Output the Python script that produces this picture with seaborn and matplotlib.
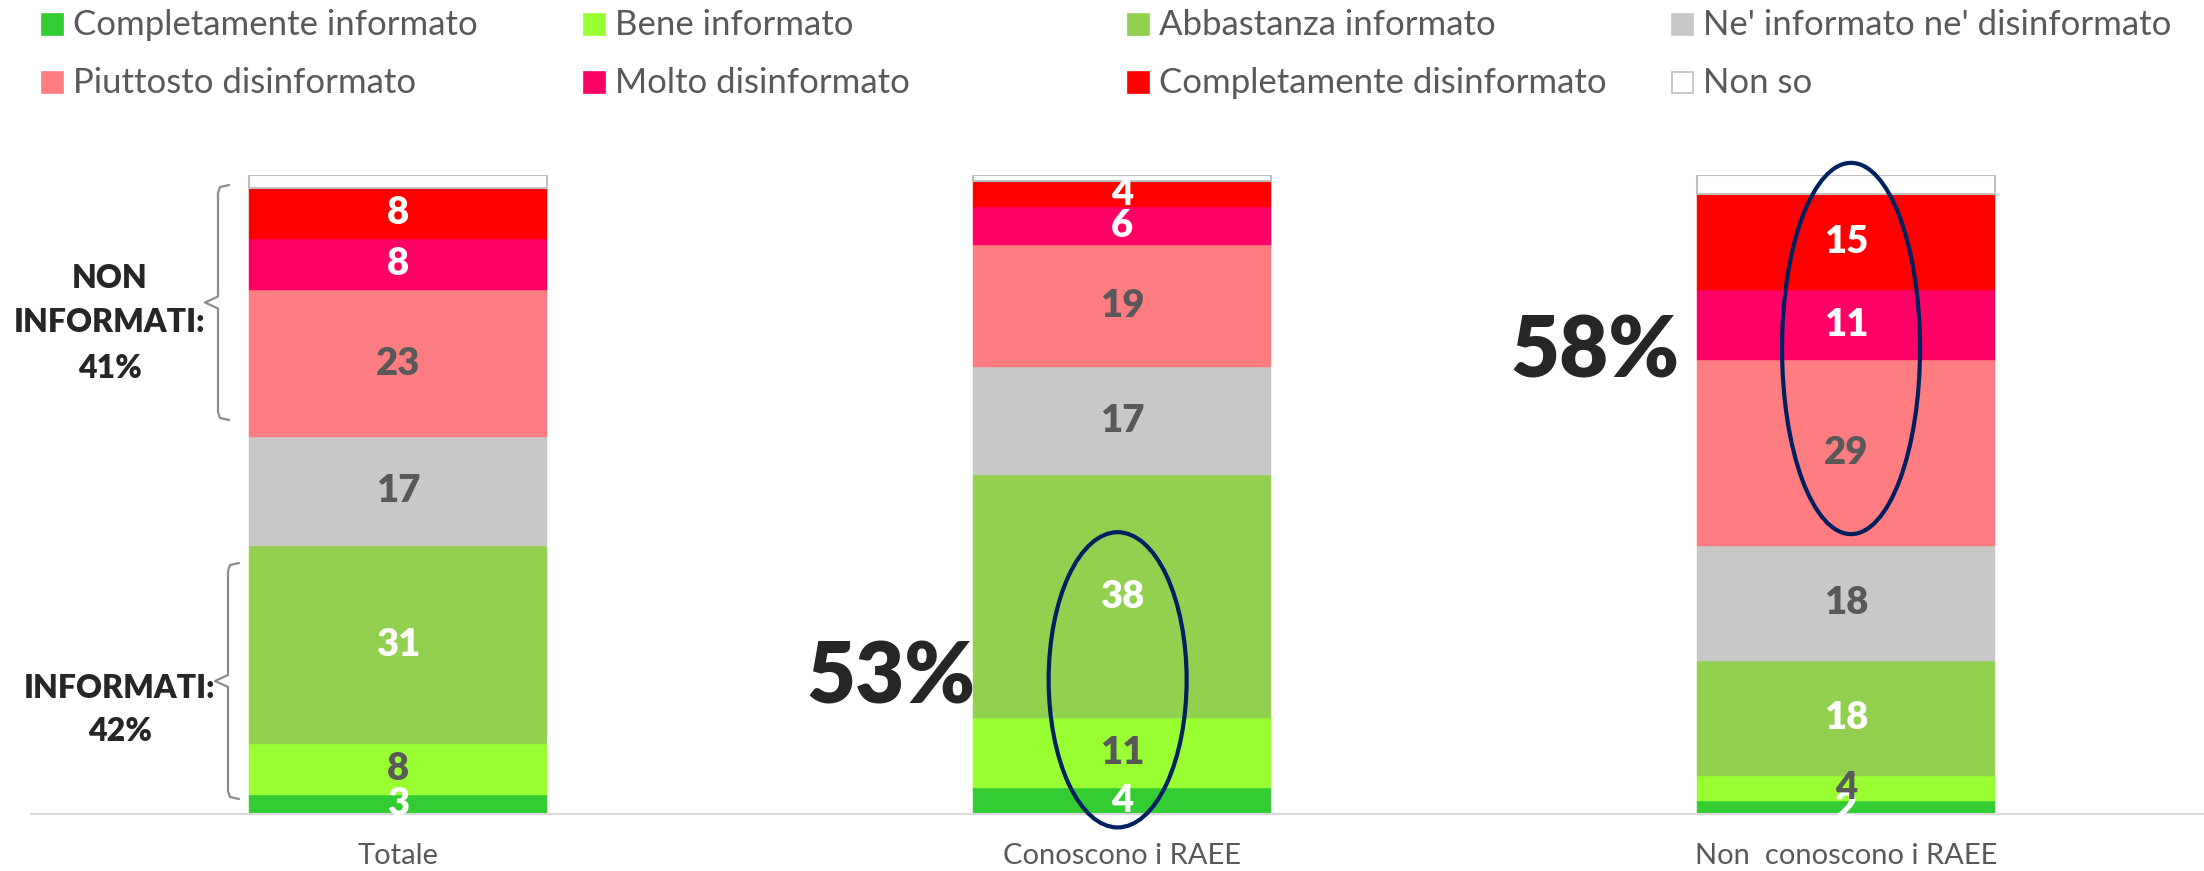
import numpy as np
import pandas as pd
import matplotlib
matplotlib.use("Agg")
import matplotlib.pyplot as plt
from matplotlib.patches import Rectangle, Ellipse
from matplotlib.lines import Line2D
import seaborn as sns

# ---------------- data ----------------
groups = ["Totale", "Conoscono i RAEE", "Non  conoscono i RAEE"]
levels = ["Completamente informato", "Bene informato", "Abbastanza informato",
          "Ne' informato ne' disinformato", "Piuttosto disinformato",
          "Molto disinformato", "Completamente disinformato", "Non so"]
completamente_informato = [3, 4, 2]
bene_informato = [8, 11, 4]
abbastanza_informato = [31, 38, 18]
ne_informato_ne_disinformato = [17, 17, 18]
piuttosto_disinformato = [23, 19, 29]
molto_disinformato = [8, 6, 11]
completamente_disinformato = [8, 4, 15]
non_so = [2, 1, 3]
series = [completamente_informato, bene_informato, abbastanza_informato,
          ne_informato_ne_disinformato, piuttosto_disinformato,
          molto_disinformato, completamente_disinformato, non_so]

colors = ["#33CC33", "#99FF33", "#92D050", "#C8C8C6", "#FF7C80",
          "#FF0066", "#FF0000", "#FFFFFF"]
label_colors = ["white", "#595959", "white", "#595959", "#595959",
                "white", "white", None]

# ---------------- figure ----------------
sns.set_theme(style="white")
plt.rcParams["font.family"] = ["Lato", "DejaVu Sans"]

W, H = 2204, 871
fig = plt.figure(figsize=(W / 100, H / 100), dpi=100)

def fx(px):
    return px / W

def fy(py):
    return 1 - py / H

ax = fig.add_axes([fx(31), fy(814), fx(W) - fx(31), fy(175) - fy(814)])

bottom = np.zeros(len(groups))
for lvl, vals, col, lcol in zip(levels, series, colors, label_colors):
    df = pd.DataFrame({"group": groups, "value": vals})
    is_nonso = lvl == "Non so"
    sns.barplot(data=df, x="group", y="value", order=groups, color=col,
                saturation=1, width=0.4116, errorbar=None, ax=ax,
                bottom=bottom.copy(),
                edgecolor="#BFBFBF" if is_nonso else col,
                linewidth=1.5 if is_nonso else 0.3)
    cont = ax.containers[-1]
    if lcol is not None:
        ax.bar_label(cont, labels=[str(v) for v in vals], label_type="center",
                     color=lcol, fontsize=27.5, fontweight=800)
    bottom += np.array(vals, dtype=float)

ax.set_xlim(-0.5069, 2.4945)
ax.set_ylim(0, 100)
ax.set_xlabel("")
ax.set_ylabel("")
ax.set_yticks([])
for s in ["top", "right", "left"]:
    ax.spines[s].set_visible(False)
ax.spines["bottom"].set_color("#D9D9D9")
ax.spines["bottom"].set_linewidth(1.5)
ax.tick_params(axis="x", length=0, pad=21, labelsize=21, labelcolor="#595959")

# ellipses
for (cx, cy, ew, eh) in [(0.994, 21.0, 0.1906, 46.2), (2.007, 72.85, 0.1906, 58.1)]:
    e = Ellipse((cx, cy), ew, eh, fill=False, edgecolor="#002060", lw=3, clip_on=False, zorder=5)
    ax.add_patch(e)

# big percentages
fig.text(fx(891), fy(678), "53%", ha="center", va="center", fontsize=61,
         fontweight=800, color="#262626")
fig.text(fx(1595), fy(353), "58%", ha="center", va="center", fontsize=61,
         fontweight=800, color="#262626")

# left annotations
for txt, x, y in [("NON", 110, 278), ("INFORMATI:", 110, 323), ("41%", 110, 368),
                  ("INFORMATI:", 120, 688), ("42%", 120, 731)]:
    fig.text(fx(x), fy(y), txt, ha="center", va="center", fontsize=23,
             fontweight=800, color="#262626")

def brace(xv, xt, xn, y0, y1):
    ym = (y0 + y1) / 2
    pts = [(xt, y0), (xv + 2, y0 + 2), (xv, y0 + 8), (xv, ym - 6), (xn, ym),
           (xv, ym + 6), (xv, y1 - 8), (xv + 2, y1 - 2), (xt, y1)]
    xs = [fx(p[0]) for p in pts]
    ys = [fy(p[1]) for p in pts]
    fig.add_artist(Line2D(xs, ys, color="#8C8C8C", lw=1.6, transform=fig.transFigure))

brace(218, 229, 205, 185, 420)
brace(228, 239, 215, 563, 799)

# legend (manual)
col_x = [42, 584, 1128, 1672]
row_base = [35, 93]
for i, (lvl, col) in enumerate(zip(levels, colors)):
    r, c = divmod(i, 4)
    x0 = col_x[c]
    yb = row_base[r]
    fig.add_artist(Rectangle((fx(x0), fy(yb)), fx(21), 21 / H, transform=fig.transFigure,
                             facecolor=col, edgecolor="#BFBFBF" if lvl == "Non so" else col,
                             lw=1.2))
    fig.text(fx(x0 + 31), fy(yb), lvl, ha="left", va="baseline", fontsize=25,
             color="#595959")

fig.savefig("out.png", dpi=100)
